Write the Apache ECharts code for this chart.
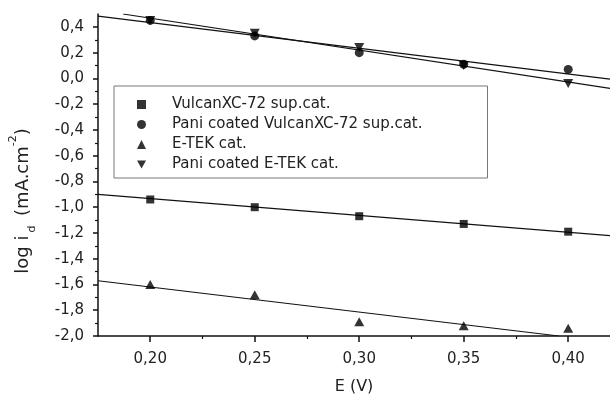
<!DOCTYPE html>
<html>
<head>
<meta charset="utf-8">
<script src="https://cdn.jsdelivr.net/npm/echarts@6/dist/echarts.min.js"></script>
<style>
html,body{margin:0;padding:0;background:#fff;}
#chart{width:610px;height:395px;}
</style>
</head>
<body>
<div id="chart"></div>
<script>
// Data
var potentials = [0.20, 0.25, 0.30, 0.35, 0.40];
var vulcan = [-0.94, -1.00, -1.07, -1.13, -1.19];
var paniVulcan = [0.45, 0.33, 0.20, 0.11, 0.07];
var etek = [-1.60, -1.68, -1.89, -1.92, -1.94];
var paniEtek = [0.45, 0.35, 0.24, 0.10, -0.04];

// Fitted straight lines (end points)
var vulcanFit = [[0.175, -0.90], [0.42, -1.22]];
var paniVulcanFit = [[0.175, 0.483], [0.42, -0.005]];
var etekFit = [[0.175, -1.571], [0.3955, -2.0]];
var paniEtekFit = [[0.187, 0.50], [0.42, -0.077]];

var seriesNames = ['VulcanXC-72 sup.cat.', 'Pani coated VulcanXC-72 sup.cat.', 'E-TEK cat.', 'Pani coated E-TEK cat.'];

// Tick values
var xMajorTicks = [0.20, 0.25, 0.30, 0.35, 0.40];
var xMinorTicks = [0.225, 0.275, 0.325, 0.375];
var yMajorTicks = [-2.0, -1.8, -1.6, -1.4, -1.2, -1.0, -0.8, -0.6, -0.4, -0.2, 0.0, 0.2, 0.4];
var yMinorTicks = [-1.9, -1.7, -1.5, -1.3, -1.1, -0.9, -0.7, -0.5, -0.3, -0.1, 0.1, 0.3];

function pairs(xs, ys) { return xs.map(function (x, i) { return [x, ys[i]]; }); }

var FONT = '"DejaVu Sans", Verdana, sans-serif';
var TXT = '#222';
var downTri = 'path://M0,0L10,0L5,9Z';

var chart = echarts.init(document.getElementById('chart'), null, {renderer: 'canvas'});

var option = {
  animation: false,
  backgroundColor: '#fff',
  grid: {left: 98, right: 0, top: 14, bottom: 59, containLabel: false, outerBoundsMode: 'none'},
  legend: {
    data: seriesNames,
    orient: 'vertical',
    left: 114,
    top: 86,
    padding: [11, 65, 6, 23],
    itemWidth: 9,
    itemHeight: 9,
    itemGap: 5,
    borderColor: '#777',
    borderWidth: 1,
    borderRadius: 0,
    backgroundColor: '#fff',
    selectedMode: false,
    textStyle: {fontFamily: FONT, fontSize: 15, color: TXT, padding: [0, 0, 0, 21]}
  },
  xAxis: [{
    type: 'value', min: 0.175, max: 0.42,
    name: 'E (V)', nameLocation: 'middle', nameGap: 43,
    nameTextStyle: {fontFamily: FONT, fontSize: 16, color: TXT},
    axisLine: {show: true, onZero: false, lineStyle: {color: '#111', width: 1.5}},
    axisTick: {show: true, customValues: xMajorTicks, length: 6, inside: false, lineStyle: {color: '#111', width: 1.5}},
    axisLabel: {show: true, customValues: xMajorTicks, margin: 16, fontFamily: FONT, fontSize: 15, color: TXT,
      formatter: function (v) { return v.toFixed(2).replace('.', ','); }},
    splitLine: {show: false}
  }, {
    type: 'value', min: 0.175, max: 0.42, position: 'bottom',
    axisLine: {show: false, onZero: false},
    axisTick: {show: true, customValues: xMinorTicks, length: 3, lineStyle: {color: '#111', width: 1.2}},
    axisLabel: {show: false},
    splitLine: {show: false}
  }],
  yAxis: [{
    type: 'value', min: -2.0, max: 0.5,
    name: '{a|log i}{sub|d}{a| (mA.cm}{sup|-2}{a|)}',
    nameLocation: 'middle', nameGap: 60, nameRotate: 90,
    nameTextStyle: {
      fontFamily: FONT, fontSize: 17, color: TXT, padding: [0, 52, 0, 0],
      rich: {
        a: {fontFamily: FONT, fontSize: 18, color: TXT, lineHeight: 30},
        sub: {fontFamily: FONT, fontSize: 11, color: TXT, verticalAlign: 'bottom', lineHeight: 30, padding: [0, 4, 0, 3]},
        sup: {fontFamily: FONT, fontSize: 11, color: TXT, verticalAlign: 'top', lineHeight: 30}
      }
    },
    axisLine: {show: true, onZero: false, lineStyle: {color: '#111', width: 1.5}},
    axisTick: {show: true, customValues: yMajorTicks, length: 5, lineStyle: {color: '#111', width: 1.5}},
    axisLabel: {show: true, customValues: yMajorTicks, margin: 14, fontFamily: FONT, fontSize: 15, color: TXT,
      formatter: function (v) { return v.toFixed(1).replace('.', ','); }},
    splitLine: {show: false}
  }, {
    type: 'value', min: -2.0, max: 0.5, position: 'left',
    axisLine: {show: false, onZero: false},
    axisTick: {show: true, customValues: yMinorTicks, length: 3, lineStyle: {color: '#111', width: 1.2}},
    axisLabel: {show: false},
    splitLine: {show: false}
  }],
  series: [
    {name: 'fit1', type: 'line', data: vulcanFit, showSymbol: false, symbol: 'none', lineStyle: {color: '#111', width: 1.2}, clip: true, silent: true, z: 1},
    {name: 'fit2', type: 'line', data: paniVulcanFit, showSymbol: false, symbol: 'none', lineStyle: {color: '#111', width: 1.2}, clip: true, silent: true, z: 1},
    {name: 'fit3', type: 'line', data: etekFit, showSymbol: false, symbol: 'none', lineStyle: {color: '#111', width: 1.2}, clip: true, silent: true, z: 1},
    {name: 'fit4', type: 'line', data: paniEtekFit, showSymbol: false, symbol: 'none', lineStyle: {color: '#111', width: 1.2}, clip: true, silent: true, z: 1},
    {name: seriesNames[0], type: 'scatter', data: pairs(potentials, vulcan), symbol: 'rect', symbolSize: 8, itemStyle: {color: '#000'}, z: 3},
    {name: seriesNames[3], type: 'scatter', data: pairs(potentials, paniEtek), symbol: downTri, symbolSize: [10, 9], itemStyle: {color: '#000'}, z: 3},
    {name: seriesNames[1], type: 'scatter', data: pairs(potentials, paniVulcan), symbol: 'circle', symbolSize: 9, itemStyle: {color: '#000'}, z: 4},
    {name: seriesNames[2], type: 'scatter', data: pairs(potentials, etek), symbol: 'triangle', symbolSize: [10, 9], itemStyle: {color: '#000'}, z: 3}
  ]
};
chart.setOption(option);
</script>
</body>
</html>
